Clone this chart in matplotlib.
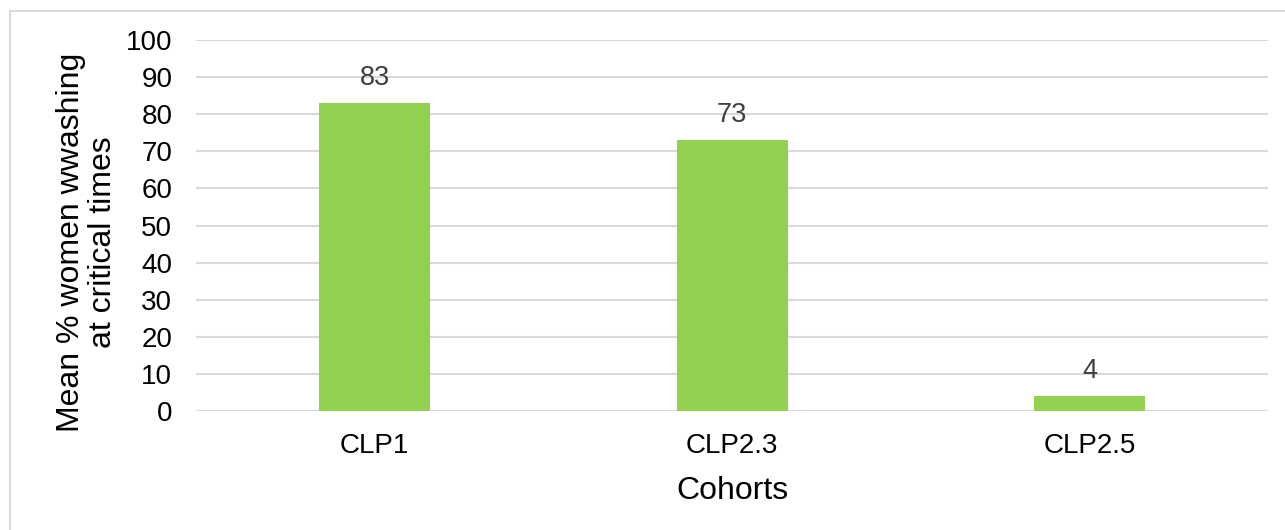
import matplotlib.pyplot as plt
from matplotlib.patches import Rectangle

cohorts = ["CLP1", "CLP2.3", "CLP2.5"]
mean_pct = [83, 73, 4]
y_ticks = list(range(0, 101, 10))

plt.rcParams['font.family'] = ['Liberation Sans', 'DejaVu Sans']

fig = plt.figure(figsize=(12.85, 5.30), dpi=100)
ax = fig.add_axes([0.1525, 0.2245, 0.8345, 0.70])

x = range(len(cohorts))
bars = ax.bar(x, mean_pct, width=0.31, color="#92D050", zorder=3)

for b, v in zip(bars, mean_pct):
    ax.annotate(str(v), (b.get_x() + b.get_width() / 2, v),
                xytext=(0, 9), textcoords="offset points",
                ha="center", va="bottom", fontsize=19.5, color="#404040")

ax.set_xlim(-0.5, len(cohorts) - 0.5)
ax.set_ylim(0, 100)
ax.set_yticks(y_ticks)
ax.set_xticks(list(x))
ax.set_xticklabels(cohorts)
ax.tick_params(axis="both", length=0, labelsize=20, colors="#000000")
ax.tick_params(axis="x", pad=16)
ax.tick_params(axis="y", pad=17)

ax.grid(axis="y", color="#D9D9D9", linewidth=1.5, zorder=0)
for s in ax.spines.values():
    s.set_visible(False)

ax.set_xlabel("Cohorts", fontsize=23, labelpad=12)
ax.set_ylabel("Mean % women wwashing\nat critical times", fontsize=23,
              labelpad=6, linespacing=1.05)
ax.yaxis.label.set_y(0.455)

# light frame around the chart area
fig.patches.append(Rectangle((10 / 1285, -0.01), 1.0, 1 - 11 / 530 + 0.01,
                             transform=fig.transFigure, fill=False,
                             edgecolor="#D9D9D9", linewidth=1.5))

fig.savefig("out.png", dpi=100)
